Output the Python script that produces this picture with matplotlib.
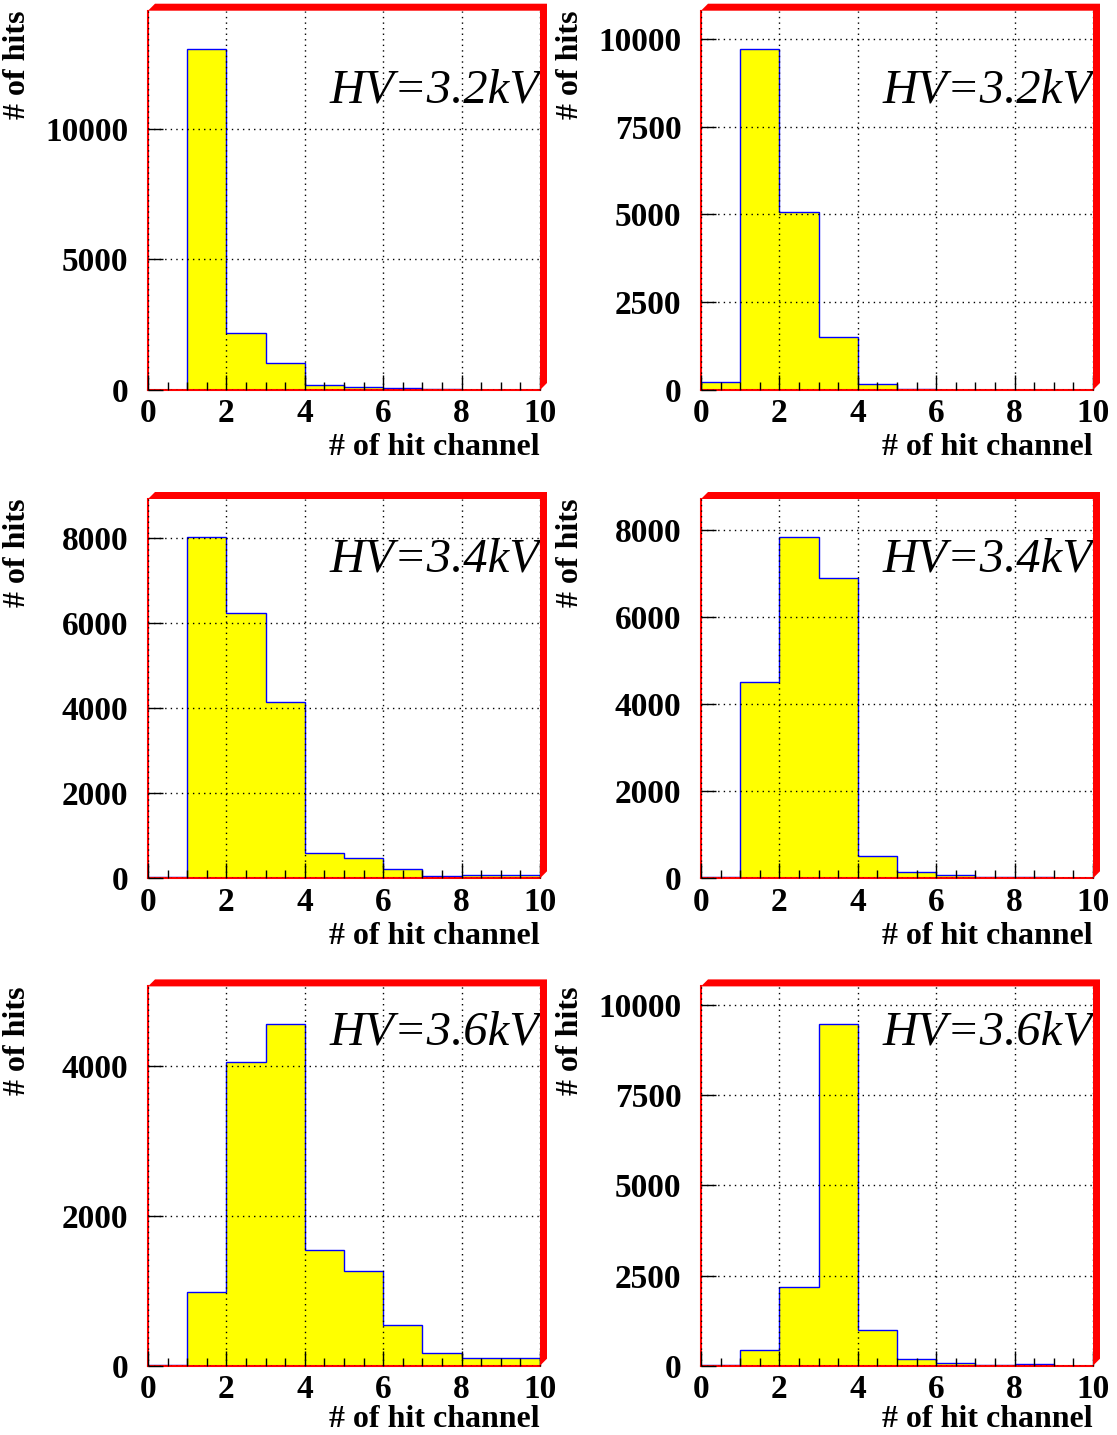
import numpy as np
import matplotlib.pyplot as plt
from matplotlib.patches import Polygon
from matplotlib.ticker import MultipleLocator

plt.rcParams['font.family'] = ['Liberation Serif', 'DejaVu Serif']

# bordes de los bins (numero de canales golpeados)
bordes = np.arange(0, 11)

# cuentas por bin
cuentas_32_a = [5, 13080, 2185, 1045, 190, 130, 65, 25, 15, 15]
cuentas_32_b = [220, 9720, 5060, 1520, 170, 40, 10, 8, 8, 8]
cuentas_34_a = [30, 8040, 6235, 4140, 600, 485, 225, 60, 85, 75]
cuentas_34_b = [37, 4510, 7830, 6890, 510, 150, 75, 35, 35, 15]
cuentas_36_a = [10, 990, 4055, 4555, 1545, 1265, 545, 165, 105, 98]
cuentas_36_b = [20, 435, 2175, 9470, 990, 195, 85, 30, 55, 5]

cuentas = [cuentas_32_a, cuentas_32_b, cuentas_34_a,
           cuentas_34_b, cuentas_36_a, cuentas_36_b]
etiquetas_hv = ['HV=3.2kV', 'HV=3.2kV', 'HV=3.4kV',
                'HV=3.4kV', 'HV=3.6kV', 'HV=3.6kV']
y_max = [14530, 10800, 8925, 8700, 5063, 10524]
y_ticks = [[0, 5000, 10000],
           [0, 2500, 5000, 7500, 10000],
           [0, 2000, 4000, 6000, 8000],
           [0, 2000, 4000, 6000, 8000],
           [0, 2000, 4000],
           [0, 2500, 5000, 7500, 10000]]

W, H = 1117, 1435
fig = plt.figure(figsize=(W / 100, H / 100), dpi=100)

# posiciones de los paneles en pixeles
col_izq = [148, 701]
ancho = 392
fila_abajo = [390, 878.3, 1365.7]
alto = 379.3
base_hv = [0.757, 0.81, 0.846]
pad_xlabel = [3, 3, 0]
d = 7  # grosor del borde rojo

for i in range(6):
    fila, col = divmod(i, 2)
    x0 = col_izq[col] / W
    y0 = 1 - fila_abajo[fila] / H
    ax = fig.add_axes([x0, y0, ancho / W, alto / H])

    ax.stairs(cuentas[i], bordes, fill=True, color='#ffff00', zorder=1)
    ax.stairs(cuentas[i], bordes, color='#0000ff', lw=1, zorder=1.5)

    ax.set_xlim(0, 10)
    ax.set_ylim(0, y_max[i])
    ax.set_xticks(np.arange(0, 11, 2))
    ax.xaxis.set_minor_locator(MultipleLocator(0.5))
    ax.set_yticks(y_ticks[i])
    ax.set_yticklabels([str(t) for t in y_ticks[i]])

    ax.set_axisbelow(False)
    ax.grid(True, linestyle=(0, (1, 3)), color='black', lw=1)
    ax.tick_params(axis='both', which='major', direction='in', length=11,
                   width=1, labelsize=24)
    ax.tick_params(axis='x', which='minor', direction='in', length=6, width=1)
    ax.tick_params(axis='y', pad=14)
    ax.tick_params(axis='x', pad=6)
    for lab in ax.get_xticklabels() + ax.get_yticklabels():
        lab.set_fontweight('bold')

    for lado in ['top', 'right']:
        ax.spines[lado].set_visible(False)
    for lado in ['left', 'bottom']:
        ax.spines[lado].set_color('#ff0000')
        ax.spines[lado].set_linewidth(1.5)

    ax.set_xlabel('# of hit channel', loc='right', fontsize=23,
                  fontweight='bold', labelpad=pad_xlabel[fila])
    ax.set_ylabel('# of hits', loc='top', fontsize=23, fontweight='bold')
    ax.yaxis.set_label_coords(-0.295, 1.0)

    ax.text(1.0, base_hv[fila], etiquetas_hv[i], transform=ax.transAxes,
            ha='right', va='baseline', fontsize=35, fontstyle='italic')

    # borde rojo con sombra (estilo ROOT)
    x1 = x0 + ancho / W
    y1 = y0 + alto / H
    dx, dy = d / W, d / H
    borde = Polygon([(x0, y1), (x0 + dx, y1 + dy), (x1 + dx, y1 + dy),
                     (x1 + dx, y0 + dy), (x1, y0), (x1, y1)],
                    closed=True, facecolor='#ff0000', edgecolor='none',
                    transform=fig.transFigure)
    fig.add_artist(borde)

fig.savefig('out.png', dpi=100)
